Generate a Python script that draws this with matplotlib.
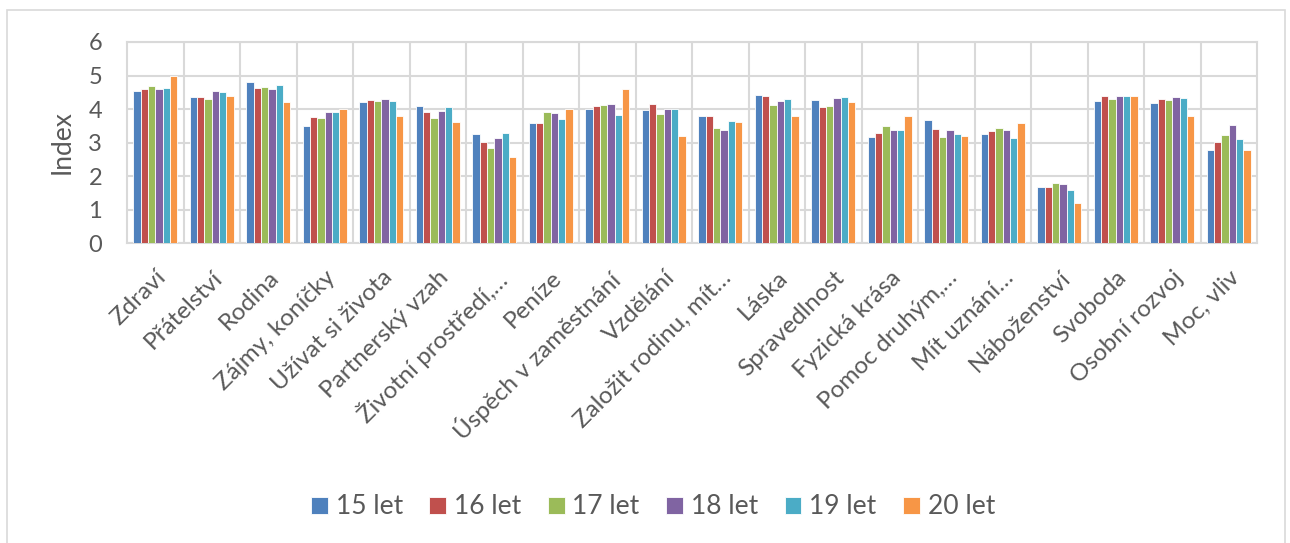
import numpy as np
import matplotlib
matplotlib.use("Agg")
import matplotlib.pyplot as plt
from matplotlib.patches import Rectangle

plt.rcParams['font.family'] = ['Lato', 'DejaVu Sans']

categories = ["Zdraví", "Přátelství", "Rodina", "Zájmy, koníčky", "Užívat si života",
              "Partnerský vzah", "Životní prostředí,…", "Peníze", "Úspěch v zaměstnání",
              "Vzdělání", "Založit rodinu, mít…", "Láska", "Spravedlnost", "Fyzická krása",
              "Pomoc druhým,…", "Mít uznání…", "Náboženství", "Svoboda", "Osobní rozvoj",
              "Moc, vliv"]

series_names = ["15 let", "16 let", "17 let", "18 let", "19 let", "20 let"]

let15 = [4.53, 4.35, 4.81, 3.50, 4.21, 4.10, 3.26, 3.57, 4.00, 3.96,
         3.80, 4.43, 4.28, 3.17, 3.67, 3.26, 1.68, 4.25, 4.18, 2.77]
let16 = [4.61, 4.37, 4.64, 3.77, 4.28, 3.92, 3.01, 3.59, 4.10, 4.14,
         3.79, 4.40, 4.06, 3.29, 3.40, 3.33, 1.68, 4.38, 4.31, 3.01]
let17 = [4.69, 4.29, 4.67, 3.73, 4.23, 3.73, 2.85, 3.90, 4.11, 3.85,
         3.44, 4.12, 4.09, 3.50, 3.17, 3.42, 1.80, 4.29, 4.27, 3.21]
let18 = [4.61, 4.55, 4.61, 3.90, 4.31, 3.94, 3.12, 3.89, 4.15, 4.00,
         3.38, 4.23, 4.32, 3.38, 3.36, 3.36, 1.77, 4.40, 4.35, 3.53]
let19 = [4.62, 4.50, 4.71, 3.90, 4.25, 4.05, 3.29, 3.69, 3.81, 4.00,
         3.65, 4.29, 4.36, 3.36, 3.25, 3.13, 1.59, 4.39, 4.32, 3.09]
let20 = [5.00, 4.40, 4.20, 4.00, 3.80, 3.60, 2.58, 4.00, 4.61, 3.19,
         3.60, 3.80, 4.20, 3.79, 3.18, 3.59, 1.18, 4.40, 3.80, 2.79]

colors = ["#4F81BD", "#C0504D", "#9BBB59", "#8064A2", "#4BACC6", "#F79646"]
grid_c = "#D9D9D9"
text_c = "#595959"

fig = plt.figure(figsize=(12.9, 5.43), dpi=100)
# outer chart frame
fig.patches.append(Rectangle((7 / 1290, -0.01), 1278 / 1290, 1 - 10 / 543 + 0.01,
                             transform=fig.transFigure, fill=False,
                             edgecolor=grid_c, linewidth=1.2))

ax = fig.add_axes([127 / 1290, 1 - 243 / 543, 1130 / 1290, 201 / 543])

x = np.arange(len(categories))
all_series = [let15, let16, let17, let18, let19, let20]
bw = 0.13
for i, vals in enumerate(all_series):
    ax.bar(x + (i - 2.5) * bw, vals, width=bw, color=colors[i],
           edgecolor="white", linewidth=0.6, label=series_names[i], zorder=3)

ax.set_xlim(-0.5, len(categories) - 0.5)
ax.set_ylim(0, 6)
ax.set_yticks(range(7))
ax.set_xticks(x)
ax.set_xticklabels(categories, rotation=45, ha="right", rotation_mode="anchor",
                   fontsize=17.5, color=text_c)
ax.tick_params(axis="x", length=0, pad=17)
ax.tick_params(axis="y", length=0, pad=18, labelsize=17, labelcolor=text_c)

# horizontal grid + category separators
ax.yaxis.grid(True, color=grid_c, linewidth=1.5, zorder=0)
for b in np.arange(0.5, len(categories) - 0.5, 1):
    ax.axvline(b, color=grid_c, linewidth=1.5, zorder=0)
for s in ax.spines.values():
    s.set_color(grid_c)
    s.set_linewidth(1.5)

ax.set_ylabel("Index", fontsize=19, color=text_c, labelpad=10)

fig.legend(loc="center", bbox_to_anchor=(653 / 1290, 1 - 507 / 543), ncol=6,
           frameon=False, fontsize=19, handlelength=0.64, handleheight=0.64,
           handletextpad=0.3, columnspacing=1.0, labelcolor=text_c)

fig.savefig("out.png", dpi=100)
